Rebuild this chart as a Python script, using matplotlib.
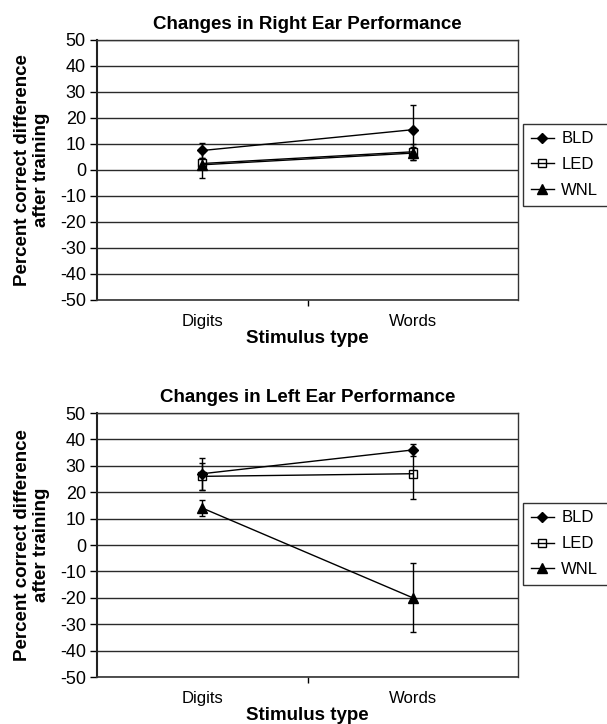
import matplotlib
matplotlib.use("Agg")
import matplotlib.pyplot as plt
from matplotlib.lines import Line2D
import numpy as np

plt.rcParams['font.family'] = ['Liberation Sans', 'DejaVu Sans']

categories = ["Digits", "Words"]
series = ["BLD", "LED", "WNL"]

right_values = {"BLD": [7.5, 15.5], "LED": [2.5, 7.0], "WNL": [2.0, 6.5]}
right_errors = {"BLD": [3.0, 9.5], "LED": [2.0, 3.0], "WNL": [5.0, 2.5]}

left_values = {"BLD": [27.0, 36.0], "LED": [26.0, 27.0], "WNL": [14.0, -20.0]}
left_errors = {"BLD": [6.0, 2.2], "LED": [5.0, 9.6], "WNL": [3.0, 13.0]}

titles = ["Changes in Right Ear Performance", "Changes in Left Ear Performance"]
y_ticks = list(range(-50, 51, 10))

styles = {
    "BLD": dict(marker="D", markersize=5.5, markerfacecolor="black", markeredgecolor="black"),
    "LED": dict(marker="s", markersize=6, markerfacecolor="none", markeredgecolor="black", markeredgewidth=1),
    "WNL": dict(marker="^", markersize=7, markerfacecolor="black", markeredgecolor="black"),
}

fig = plt.figure(figsize=(6.07, 7.24), dpi=100)
ax_pos = [[97/607, 1-300/724, 421/607, 260/724],
          [97/607, 1-677/724, 421/607, 264/724]]
legend_top = [(300-124)/260, (677-503)/264]

for i, (vals, errs) in enumerate([(right_values, right_errors), (left_values, left_errors)]):
    ax = fig.add_axes(ax_pos[i])
    x = np.arange(len(categories))
    for s in series:
        ax.errorbar(x, vals[s], yerr=errs[s], color="black", lw=1, elinewidth=1,
                    capsize=2, capthick=1, zorder=3, **styles[s])
    ax.set_xlim(-0.5, 1.5)
    ax.set_ylim(-50, 50)
    ax.set_yticks(y_ticks)
    ax.set_yticklabels([str(t) for t in y_ticks], fontsize=13)
    ax.yaxis.grid(True, color="#2a2a2a", lw=1)
    ax.set_axisbelow(True)
    ax.set_xticks([0.5])
    ax.set_xticklabels([""])
    ax.set_xticks(x, minor=True)
    ax.set_xticklabels(categories, minor=True, fontsize=12)
    ax.tick_params(axis="x", which="minor", length=0, pad=10)
    ax.tick_params(axis="x", which="major", length=4, direction="out", width=1)
    ax.tick_params(axis="y", length=5, width=1, pad=3)
    for sp in ax.spines.values():
        sp.set_color("#333333")
        sp.set_linewidth(1)
    ax.spines["left"].set_color("#222222")
    ax.spines["left"].set_linewidth(1.5)
    ax.spines["bottom"].set_linewidth(1.2)
    ax.set_title(titles[i], fontsize=13.5, fontweight="bold", pad=8)
    ax.set_xlabel("Stimulus type", fontsize=13.5, fontweight="bold", labelpad=1)
    ax.set_ylabel("Percent correct difference\nafter training", fontsize=13.5,
                  fontweight="bold", labelpad=7, linespacing=1.15)
    handles = [Line2D([], [], color="black", lw=1, **styles[s]) for s in series]
    leg = ax.legend(handles, series, loc="upper left",
                    bbox_to_anchor=(1.012, legend_top[i] - 0.5, 0.3, 0.5),
                    mode="expand",
                    frameon=True, fancybox=False, fontsize=12, handlelength=1.4,
                    handletextpad=0.45, borderpad=0.45, labelspacing=0.65,
                    borderaxespad=0)
    leg.get_frame().set_edgecolor("black")
    leg.get_frame().set_linewidth(1)

fig.savefig("out.png", dpi=100)
